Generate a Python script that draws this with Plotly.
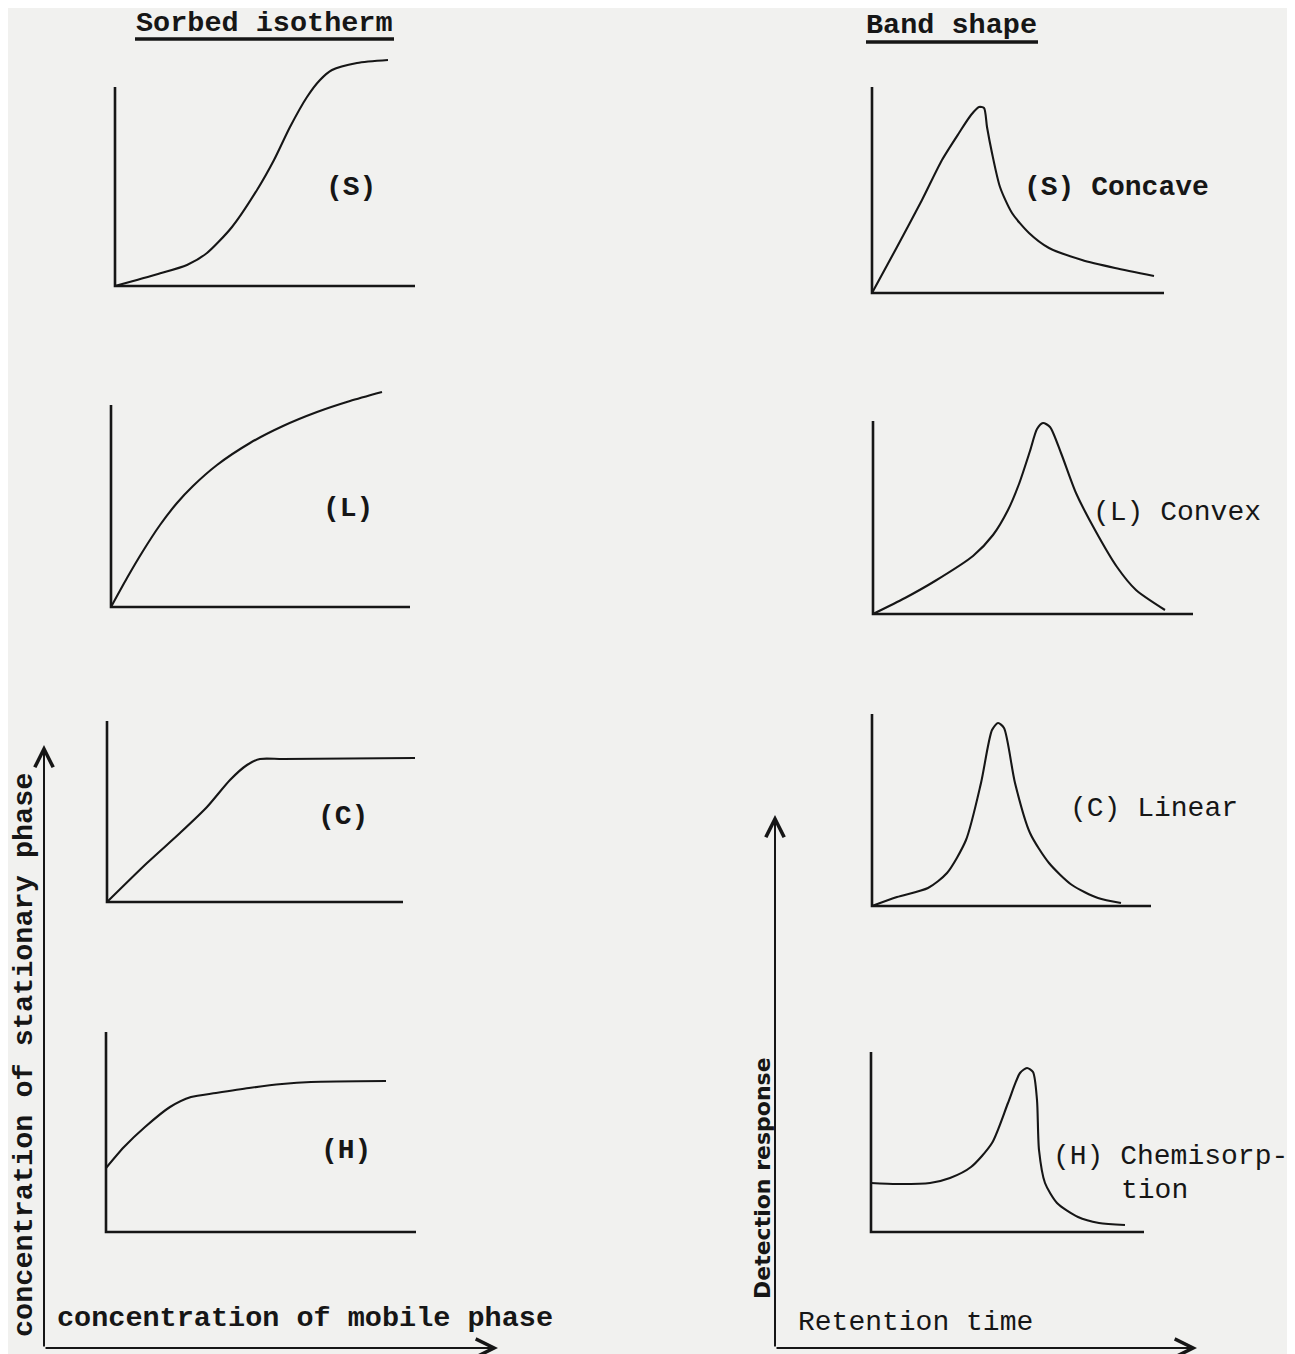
import plotly.graph_objects as go

OFF = 8                      # browser body margin: the figure starts 8 px in from the window corner
FW, FH = 1295 - OFF, 1354 - OFF
INK = "#161616"
PAPER = "#f1f1ef"
MONO = "Liberation Mono, Courier New, monospace"

# ---------------- data ----------------
# local units: x to the right / y upward, measured from each small panel's axis corner
# Sorbed isotherms
iso_S_x = [0, 43, 72, 92, 117, 142, 159, 175, 192, 205, 217, 242, 273]
iso_S_y = [0, 12, 21, 33, 59, 96, 126, 159, 189, 206, 216, 223, 226]
iso_L_x = [0, 16, 32, 49, 66, 82, 106, 139, 172, 206, 239, 271]
iso_L_y = [0, 29, 56, 82, 104, 121, 142, 164, 181, 195, 206, 215]
iso_C_x = [0, 40, 73, 100, 123, 140, 153, 176, 308]
iso_C_y = [0, 39, 69, 95, 122, 137, 143, 143, 144]
iso_H_x = [0, 18, 39, 64, 85, 110, 143, 176, 205, 280]
iso_H_y = [64, 85, 105, 125, 135, 139, 144, 148, 150, 151]
# Band shapes
band_S_x = [0, 25, 50, 70, 87, 99, 107, 112, 115, 120, 128, 140, 157, 177, 210, 243, 282]
band_S_y = [0, 46, 93, 133, 160, 178, 186, 185, 166, 140, 106, 80, 60, 45, 33, 25, 17]
band_L_x = [0, 32, 62, 100, 120, 135, 146, 157, 164, 170, 177, 188, 203, 222, 244, 263, 292]
band_L_y = [0, 16, 33, 58, 79, 104, 130, 163, 185, 191, 187, 161, 121, 84, 47, 24, 4]
band_C_x = [0, 25, 56, 75, 94, 109, 120, 126, 132, 143, 158, 177, 200, 226, 249]
band_C_y = [0, 9, 18, 33, 66, 123, 176, 183, 178, 123, 73, 43, 21, 8, 3]
band_H_x = [0, 26, 59, 79, 100, 121, 137, 149, 156, 162, 166, 168, 174, 186, 207, 228, 254]
band_H_y = [49, 48, 49, 54, 65, 89, 129, 159, 164, 160, 132, 82, 49, 29, 15, 9, 7]

iso_labels = ["(S)", "(L)", "(C)", "(H)"]
band_labels = ["(S) Concave", "(L) Convex", "(C) Linear", "(H) Chemisorp-"]
band_label_extra = "tion"
titles = ["Sorbed isotherm", "Band shape"]
axis_texts = ["concentration of stationary phase", "concentration of mobile phase",
              "Detection response", "Retention time"]

# ---------------- layout table (pixel geometry of each small panel) ----------------
panels = [
    dict(ox=115, oy=286, W=300, Hv=199, x=iso_S_x, y=iso_S_y, lab=iso_labels[0], lx=236, ly=99, side="center", bold=True),
    dict(ox=111, oy=607, W=299, Hv=202, x=iso_L_x, y=iso_L_y, lab=iso_labels[1], lx=237, ly=99, side="center", bold=True),
    dict(ox=107, oy=902, W=296, Hv=181, x=iso_C_x, y=iso_C_y, lab=iso_labels[2], lx=236, ly=85, side="center", bold=True),
    dict(ox=106, oy=1232, W=310, Hv=200, x=iso_H_x, y=iso_H_y, lab=iso_labels[3], lx=240, ly=82, side="center", bold=True),
    dict(ox=872, oy=293, W=292, Hv=206, x=band_S_x, y=band_S_y, lab=band_labels[0], lx=150, ly=105, side="left", bold=True),
    dict(ox=873, oy=614, W=320, Hv=193, x=band_L_x, y=band_L_y, lab=band_labels[1], lx=218, ly=101, side="left", bold=False),
    dict(ox=872, oy=906, W=279, Hv=192, x=band_C_x, y=band_C_y, lab=band_labels[2], lx=196, ly=98, side="left", bold=False),
    dict(ox=871, oy=1232, W=273, Hv=180, x=band_H_x, y=band_H_y, lab=band_labels[3], lx=180, ly=76, side="left", bold=False),
]

fig = go.Figure()
annotations = []
PAD = 20

for i, p in enumerate(panels):
    k = "" if i == 0 else str(i + 1)
    xa, ya = "x" + k, "y" + k
    ox, oy = p["ox"] - OFF, p["oy"] - OFF
    top = max(p["Hv"], max(p["y"]))
    # axis L-shape drawn through the panel's own scales
    fig.add_trace(go.Scatter(x=[0, 0, p["W"]], y=[p["Hv"], 0, 0], mode="lines",
                             line=dict(color=INK, width=2.6), xaxis=xa, yaxis=ya,
                             hoverinfo="skip", showlegend=False))
    fig.add_trace(go.Scatter(x=p["x"], y=p["y"], mode="lines",
                             line=dict(color=INK, width=2.1, shape="spline", smoothing=0.7),
                             xaxis=xa, yaxis=ya, hoverinfo="skip", showlegend=False))
    xd = [(ox - PAD) / FW, (ox + p["W"] + PAD) / FW]
    yd = [(FH - (oy + PAD)) / FH, (FH - (oy - top - PAD)) / FH]
    ax_common = dict(visible=False, showgrid=False, zeroline=False, fixedrange=True)
    fig.layout["xaxis" + k] = dict(domain=xd, range=[-PAD, p["W"] + PAD], anchor=ya, **ax_common)
    fig.layout["yaxis" + k] = dict(domain=yd, range=[-PAD, top + PAD], anchor=xa, **ax_common)
    annotations.append(dict(x=p["lx"], y=p["ly"], xref=xa, yref=ya, text=p["lab"],
                            showarrow=False, xanchor=p["side"], yanchor="middle",
                            font=dict(family=MONO, size=28, color=INK,
                                      weight="bold" if p["bold"] else "normal")))
    if i == 7:
        annotations.append(dict(x=248, y=42, xref=xa, yref=ya, text=band_label_extra,
                                showarrow=False, xanchor="left", yanchor="middle",
                                font=dict(family=MONO, size=28, color=INK)))


def P(px, py):
    return (px - OFF) / FW, 1 - (py - OFF) / FH


# titles
for t, (cx, cy) in zip(titles, [(264.5, 24), (951.5, 26)]):
    x, y = P(cx, cy)
    annotations.append(dict(x=x, y=y, xref="paper", yref="paper", text=t, showarrow=False,
                            xanchor="center", yanchor="middle",
                            font=dict(family=MONO, size=28.5, color=INK, weight="bold")))

# big axis labels
x, y = P(24, 1055)
annotations.append(dict(x=x, y=y, xref="paper", yref="paper", text=axis_texts[0], textangle=-90,
                        showarrow=False, xanchor="center", yanchor="middle",
                        font=dict(family=MONO, size=28.5, color=INK, weight="bold")))
x, y = P(305, 1318)
annotations.append(dict(x=x, y=y, xref="paper", yref="paper", text=axis_texts[1],
                        showarrow=False, xanchor="center", yanchor="middle",
                        font=dict(family=MONO, size=28.5, color=INK, weight="bold")))
x, y = P(762, 1178)
annotations.append(dict(x=x, y=y, xref="paper", yref="paper", text=axis_texts[2], textangle=-90,
                        showarrow=False, xanchor="center", yanchor="middle",
                        font=dict(family="DejaVu Sans, Arial, sans-serif", size=22, color=INK,
                                  weight="bold")))
x, y = P(915, 1322)
annotations.append(dict(x=x, y=y, xref="paper", yref="paper", text=axis_texts[3],
                        showarrow=False, xanchor="center", yanchor="middle",
                        font=dict(family=MONO, size=28, color=INK)))

# big arrows (tip position, pixel offset to tail)
for (tx, ty, dx, dy) in [(44, 745, 0, 603), (498, 1348, -454, 0),
                         (775, 815, 0, 533), (1197, 1348, -422, 0)]:
    x, y = P(tx, ty)
    annotations.append(dict(x=x, y=y, xref="paper", yref="paper", ax=dx, ay=dy, text="",
                            showarrow=True, arrowhead=5, arrowsize=1.8, arrowwidth=2,
                            arrowcolor=INK, standoff=0, startstandoff=0))

# title underlines
shapes = []
for (x0, x1, yy) in [(135, 394, 39), (866, 1038, 42)]:
    a, b = P(x0, yy)
    c, _ = P(x1, yy)
    shapes.append(dict(type="line", xref="paper", yref="paper", x0=a, x1=c, y0=b, y1=b,
                       line=dict(color=INK, width=3.5)))

fig.update_layout(width=FW, height=FH, margin=dict(l=0, r=0, t=0, b=0),
                  paper_bgcolor=PAPER, plot_bgcolor="rgba(0,0,0,0)",
                  showlegend=False, annotations=annotations, shapes=shapes)

fig.write_html("out.html")
